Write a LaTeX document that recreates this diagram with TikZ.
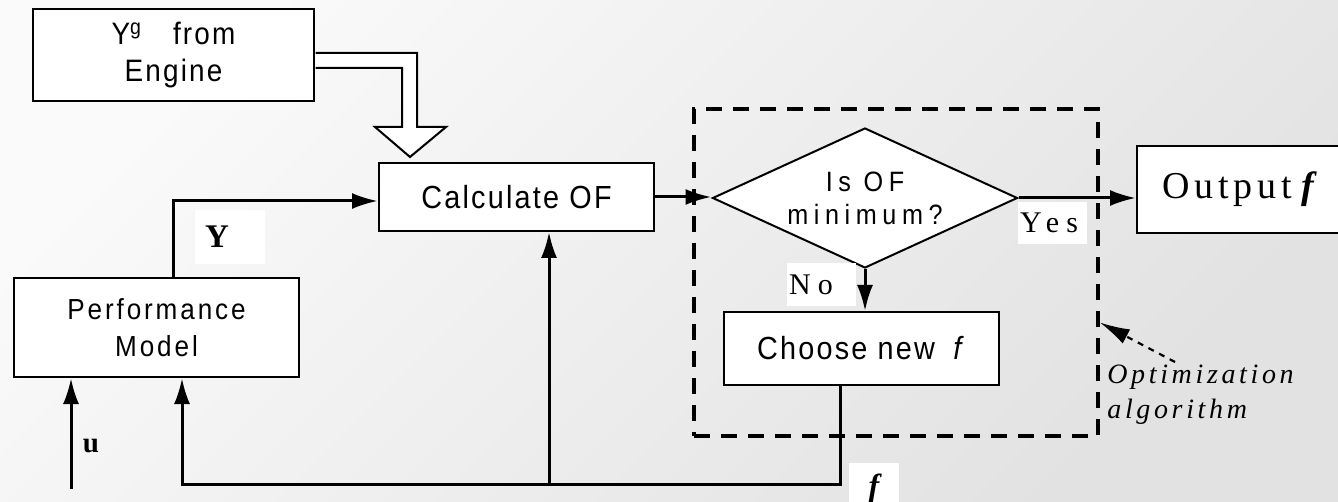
\documentclass[tikz,border=0pt]{standalone}
\usepackage{fontspec}
\setmainfont{Liberation Serif}
\newfontfamily\boxfont[FakeStretch=0.9,LetterSpace=7]{Liberation Sans}
\newfontfamily\wideboxfont[FakeStretch=0.9,LetterSpace=20]{Liberation Sans}
\newfontfamily\modelfont[FakeStretch=0.9,LetterSpace=10]{Liberation Sans}
\newfontfamily\labelfont[LetterSpace=13]{Liberation Serif}
\newfontfamily\answerfont[LetterSpace=24]{Liberation Serif}
\usetikzlibrary{arrows.meta, calc, positioning, shapes.geometric}
\tikzset{
  block/.style={draw, line width=1pt, fill=white, inner sep=0pt, align=center},
  flow/.style={line width=1.5pt, -{Latex[length=13pt,width=8pt]}},
  tag/.style={fill=white, inner sep=0pt, align=left},
}

\begin{document}
\begin{tikzpicture}[x=0.5pt, y=-0.5pt]
    \useasboundingbox (0,0) rectangle (1338,502);
    \shade[top color=gray!4, bottom color=gray!23, shading angle=45] (0,0) rectangle (1338,502);

    % optimisation loop frame
    \node[draw, line width=1.8pt, dash pattern=on 8pt off 5.5pt,
          minimum width=202pt, minimum height=163.5pt] (optbox) at (896,272.5) {};

    \node[block, minimum width=140.5pt, minimum height=46pt,
          font=\boxfont\fontsize{15.5}{18.5}\selectfont] (engine) at (173.5,55)
      {Y\textsuperscript{g}\quad from\\Engine};
    \node[block, minimum width=142.5pt, minimum height=49.5pt,
          font=\modelfont\fontsize{14.5}{18.5}\selectfont] (perf) at (156.5,327.5)
      {Performance\\Model};
    \node[block, minimum width=137.5pt, minimum height=34pt,
          font=\boxfont\fontsize{16}{19}\selectfont] (calc) at (516.5,197) {Calculate OF};
    \node[block, diamond, aspect=2.2, minimum width=152.5pt, minimum height=70pt,
          font=\wideboxfont\fontsize{14}{16.5}\selectfont] (test) at (865,198)
      {Is OF\\minimum?};
    \node[block, minimum width=137.5pt, minimum height=36.5pt,
          font=\boxfont\fontsize{16}{19}\selectfont] (choose) at (861.5,348.5)
      {Choose new\hspace{4pt} \textit{f}};
    \node[block, minimum width=105pt, minimum height=43.5pt,
          font=\labelfont\fontsize{19}{22}\selectfont] (output) at (1242,189.5)
      {Output\hspace{2pt}\textbf{\textit{f}}};

    % hollow pipe from the engine data
    \filldraw[fill=white, line width=1pt] ($(engine.east)+(0.5,-2)$) -- (417,53) -- (417,127)
      -- (446,127) -- (410,157) -- (375,127) -- (402,127) -- (402,68) -- ($(engine.east)+(0.5,13)$);

    % signal flow
    \draw[flow] ([xshift=8.25pt]perf.north) |- ([yshift=-2pt]calc.west);
    \draw[flow] (calc.east) -- (calc.east -| test.west);
    \draw[flow] (test.south) -- (test.south |- choose.north);
    \draw[flow] (test.east) -- (test.east -| output.west);

    % feedback of f
    \coordinate (fb) at ($(choose.south)+(-21.5,0)$);
    \coordinate (bus) at ($(fb)+(0,98)$);
    \draw[flow] (fb) -- (bus) -| ([xshift=12.75pt]perf.south);
    \draw[flow] ($(calc.south |- bus)+(32.5,0)$) -- ($(calc.south)+(32.5,0)$);

    \coordinate (uin) at (71,489);
    \draw[flow] (uin) -- (uin |- perf.south);

    % labels
    \node[tag, inner xsep=5pt, text width=25pt, minimum height=27pt,
          font=\bfseries\fontsize{16.5}{18}\selectfont] (ylabel) at (230,237) {Y};
    \node[font=\bfseries\fontsize{14.5}{16}\selectfont] (ulabel) at (91,446) {u};
    \node[tag, inner xsep=1pt, text width=32.5pt, minimum height=21.5pt,
          font=\answerfont\fontsize{15}{17}\selectfont] (nolabel) at (821.5,284.5) {No};
    \node[tag, inner xsep=1pt, text width=32.5pt, minimum height=21pt,
          font=\answerfont\fontsize{15}{17}\selectfont] (yeslabel) at (1052.5,223) {Yes};
    \node[tag, anchor=north, align=center, minimum width=25pt, minimum height=25pt,
          font=\bfseries\itshape\fontsize{16}{18}\selectfont] (flabel) at (874,463) {f};

    \node[anchor=north west, inner sep=0pt, align=left,
          font=\labelfont\itshape\fontsize{14}{17.5}\selectfont] (optlabel) at (1107,365)
      {Optimization\\algorithm};
    \draw[dashed, line width=1.1pt, -{Latex[length=15pt,width=8pt]}]
      ([xshift=34pt,yshift=1.5pt]optlabel.north west) -- ($(optbox.east)+(0,50)$);
\end{tikzpicture}
\end{document}
